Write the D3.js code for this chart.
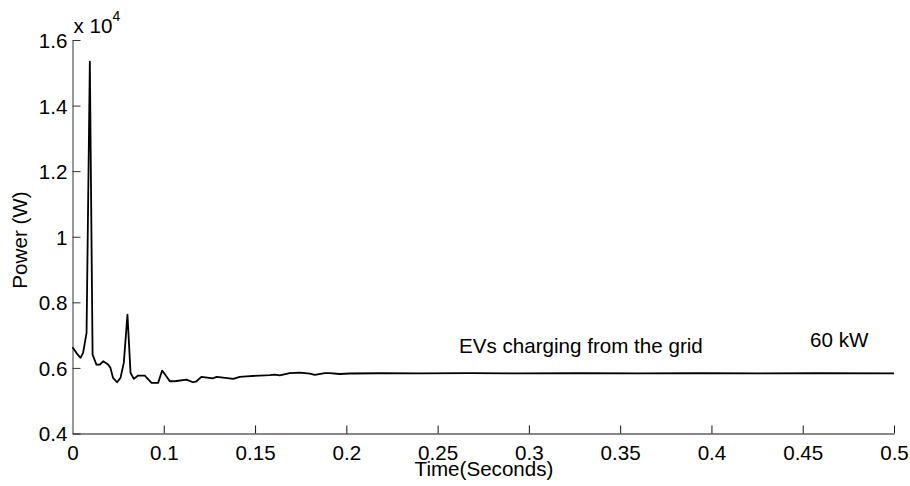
<!DOCTYPE html>
<html>
<head>
<meta charset="utf-8">
<script src="https://cdn.jsdelivr.net/npm/d3@7"></script>
<style>
  html, body { margin: 0; padding: 0; background: #fff; }
  svg text { font-family: "Liberation Sans", Arial, Helvetica, sans-serif; fill: #000; }
</style>
</head>
<body>
<svg id="chart" width="910" height="486"></svg>
<script>
// Grid power drawn while the EVs charge (time in s, power in W)
const time = [
  0.0500, 0.0503, 0.0524, 0.0544, 0.0558, 0.0577, 0.0595, 0.0610, 0.0631, 0.0650,
  0.0668, 0.0695, 0.0708, 0.0722, 0.0744, 0.0763, 0.0781, 0.0801, 0.0818, 0.0836,
  0.0859, 0.0896, 0.0933, 0.0969, 0.0991, 0.1011, 0.1033, 0.1060, 0.1124, 0.1160,
  0.1179, 0.1206, 0.1270, 0.1289, 0.1325, 0.1380, 0.1416, 0.1453, 0.1526, 0.1581,
  0.1608, 0.1635, 0.1690, 0.1745, 0.1800, 0.1827, 0.1882, 0.1909, 0.1964, 0.2019,
  0.2183, 0.2402, 0.2676, 0.2950, 0.3279, 0.3607, 0.3936, 0.4264, 0.4593, 0.5000
];
const power = [
  6630, 6610, 6437, 6306, 6458, 7067, 15340, 6406, 6102, 6102,
  6202, 6102, 6001, 5697, 5563, 5697, 6153, 7625, 5849, 5666,
  5767, 5767, 5544, 5544, 5919, 5767, 5593, 5593, 5645, 5563,
  5593, 5727, 5684, 5727, 5706, 5666, 5727, 5745, 5767, 5782,
  5797, 5770, 5843, 5855, 5828, 5790, 5843, 5843, 5815, 5830,
  5838, 5832, 5840, 5835, 5838, 5834, 5838, 5836, 5838, 5836
];

// Axis ticks and their printed labels
const xTicks = [0.05, 0.1, 0.15, 0.2, 0.25, 0.3, 0.35, 0.4, 0.45, 0.5];
const xTickLabels = ["0", "0.1", "0.15", "0.2", "0.25", "0.3", "0.35", "0.4", "0.45", "0.5"];
const yTicks = [4000, 6000, 8000, 10000, 12000, 14000, 16000];
const yTickLabels = ["0.4", "0.6", "0.8", "1", "1.2", "1.4", "1.6"];

const xLabel = "Time(Seconds)";
const yLabel = "Power (W)";
const notes = [
  { text: "EVs charging from the grid", t: 0.2617, p: 6455 },
  { text: "60 kW", t: 0.4540, p: 6640 }
];

const svg = d3.select("#chart");
const plotLeft = 72.5, plotRight = 894, plotTop = 40, plotBottom = 433.5;

const x = d3.scaleLinear().domain([0.05, 0.5]).range([plotLeft, plotRight]);
const y = d3.scaleLinear().domain([4000, 16000]).range([plotBottom, plotTop]);

const fontSize = 20.6;

// Left axis: ticks point into the plot
const yAxis = d3.axisLeft(y)
  .tickValues(yTicks)
  .tickFormat((d, i) => yTickLabels[i])
  .tickSizeInner(-8)
  .tickSizeOuter(0)
  .tickPadding(6);

const gy = svg.append("g").attr("transform", `translate(${plotLeft},0)`).call(yAxis);
gy.select(".domain").attr("stroke", "#333").attr("stroke-width", 1);
gy.selectAll(".tick line").attr("stroke", "#333");
gy.selectAll(".tick text")
  .attr("x", -5)
  .attr("dy", "0.36em")
  .attr("font-size", fontSize)
  .attr("font-family", "Liberation Sans, Arial, sans-serif")
  .attr("fill", "#000");

// Bottom axis
const xAxis = d3.axisBottom(x)
  .tickValues(xTicks)
  .tickFormat((d, i) => xTickLabels[i])
  .tickSizeInner(-8)
  .tickSizeOuter(0)
  .tickPadding(6);

const gx = svg.append("g").attr("transform", `translate(0,${plotBottom})`).call(xAxis);
gx.select(".domain").attr("stroke", "#111").attr("stroke-width", 1);
gx.selectAll(".tick line").attr("stroke", "#111");
gx.selectAll(".tick text")
  .attr("y", 12)
  .attr("font-size", fontSize)
  .attr("font-family", "Liberation Sans, Arial, sans-serif")
  .attr("fill", "#000");

// The first tick sits on the y axis itself
gx.selectAll(".tick").filter(d => d === 0.05).select("line").remove();

// Exponent marker above the y axis
const expo = svg.append("text")
  .attr("x", plotLeft + 1)
  .attr("y", 33)
  .attr("font-size", fontSize);
expo.append("tspan").text("x 10");
expo.append("tspan").attr("dy", -12).attr("font-size", 14).text("4");

// Power trace
const pts = time.map((t, i) => [t, power[i]]);
svg.append("path")
  .datum(pts)
  .attr("fill", "none")
  .attr("stroke", "#000")
  .attr("stroke-width", 1.8)
  .attr("stroke-linejoin", "round")
  .attr("d", d3.line().x(d => x(d[0])).y(d => y(d[1])));

// Axis titles
svg.append("text")
  .attr("x", 484)
  .attr("y", 476)
  .attr("text-anchor", "middle")
  .attr("font-size", fontSize)
  .text(xLabel);

svg.append("text")
  .attr("transform", `translate(27,240) rotate(-90)`)
  .attr("text-anchor", "middle")
  .attr("font-size", fontSize)
  .text(yLabel);

// Annotations
svg.selectAll("text.note")
  .data(notes)
  .join("text")
  .attr("class", "note")
  .attr("x", d => x(d.t))
  .attr("y", d => y(d.p))
  .attr("font-size", fontSize)
  .text(d => d.text);
</script>
</body>
</html>
